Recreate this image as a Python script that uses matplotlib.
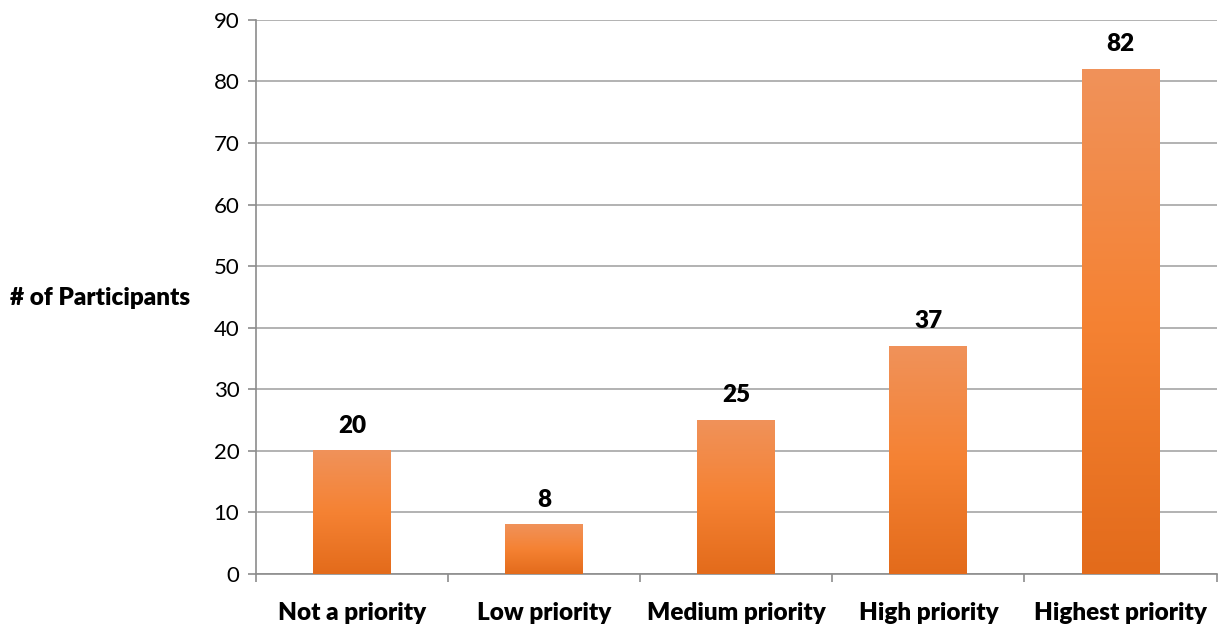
import numpy as np
import matplotlib.pyplot as plt
from matplotlib.colors import LinearSegmentedColormap

categories = ['Not a priority', 'Low priority', 'Medium priority', 'High priority', 'Highest priority']
participants = [20, 8, 25, 37, 82]

plt.rcParams['font.family'] = ['Lato', 'DejaVu Sans']

fig = plt.figure(figsize=(12.19, 6.24), dpi=100)
ax = fig.add_axes([0.21, 0.0801, 0.788, 0.888])

x = np.arange(len(categories))
bars = ax.bar(x, participants, width=0.405, color='none', zorder=3)

# vertical gradient: dark at bottom, bright orange middle, lighter at top
cmap = LinearSegmentedColormap.from_list('orangegrad', ['#e36b1b', '#f58233', '#f0925a'])
grad = np.linspace(0, 1, 256).reshape(-1, 1)
for b in bars:
    x0, y0 = b.get_x(), b.get_y()
    w, h = b.get_width(), b.get_height()
    ax.imshow(grad, cmap=cmap, aspect='auto', origin='lower',
              extent=[x0, x0 + w, y0, y0 + h], zorder=3)
    ax.text(x0 + w / 2, h + 2.3, f'{int(h)}', ha='center', va='bottom',
            fontsize=17.5, fontweight='heavy', color='black', zorder=4)

ax.set_xlim(-0.5, len(categories) - 0.5)
ax.set_ylim(0, 90)
ax.set_yticks(range(0, 91, 10))
ax.yaxis.grid(True, color='#a6a6a6', linewidth=1.2)
ax.set_axisbelow(True)

ax.set_xticks(x)
ax.set_xticklabels(categories, fontsize=17.5, fontweight='heavy')
ax.tick_params(axis='x', length=0, pad=20)
ax.set_xticks(np.arange(-0.5, len(categories)), minor=True)
ax.tick_params(axis='x', which='minor', length=6, color='#8c8c8c', width=1.2)
ax.tick_params(axis='y', length=6, color='#8c8c8c', width=1.2, labelsize=16, pad=6)

for side in ['top', 'right']:
    ax.spines[side].set_visible(False)
for side in ['left', 'bottom']:
    ax.spines[side].set_color('#8c8c8c')
    ax.spines[side].set_linewidth(1.2)

fig.text(0.008, 1 - 298 / 624, '# of Participants', fontsize=17.5, fontweight='heavy',
         ha='left', va='center')

fig.savefig('out.png', dpi=100)
